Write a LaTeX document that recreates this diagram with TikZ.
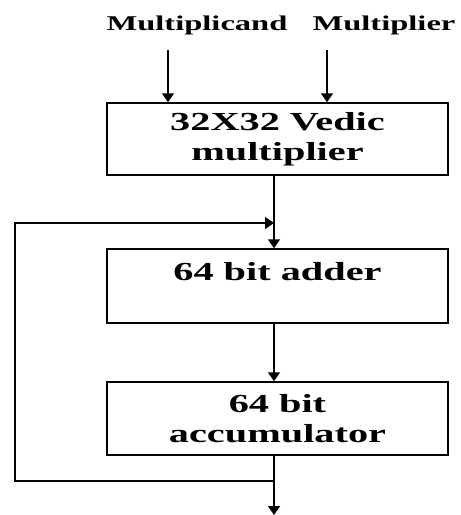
\documentclass[tikz,border=0pt]{standalone}
\usepackage{fontspec}
\setmainfont[FakeStretch=1.55]{Liberation Serif}
\usetikzlibrary{arrows.meta}
\begin{document}
\begin{tikzpicture}[x=1pt,y=-1pt,
  lbl/.style={font=\fontsize{21}{29}\selectfont\bfseries, inner sep=0pt},
  blk/.style={draw, line width=1.5pt, minimum width=341pt, align=center, inner sep=0pt, font=\fontsize{26}{29.5}\selectfont\bfseries},
  ln/.style={line width=1.5pt},
  arr/.style={ln, -{Triangle[length=9pt,width=12pt]}}]
\useasboundingbox (0,0) rectangle (461,515);
\node[lbl] (mcand) at (197,25) {Multiplicand};
\node[lbl] (mplier) at (384,25) {Multiplier};
\coordinate (a1) at (168,50);
\coordinate (a2) at (327,50);
\node[blk, minimum height=72pt] (mult) at (277.5,139) {32X32 Vedic\\multiplier};
\node[blk, minimum height=74pt] (adder) at (277.5,286) {64 bit adder\\\mbox{}};
\node[blk, minimum height=73pt] (acc) at (277.5,418.5) {64 bit\\accumulator};
\coordinate (j1) at (274,223);
\coordinate (j2) at (274,481);
\coordinate (fl) at (15,481);
\coordinate (fu) at (15,223);
\coordinate (out) at (274,515);
\draw[arr] (a1) -- (a1 |- mult.north);
\draw[arr] (a2) -- (a2 |- mult.north);
\draw[arr] (j1 |- mult.south) -- (j1 |- adder.north);
\draw[arr] (j1 |- adder.south) -- (j1 |- acc.north);
\draw[arr] (j1 |- acc.south) -- (out);
\draw[arr] (j2) -- (fl) -- (fu) -- (j1);
\end{tikzpicture}
\end{document}
